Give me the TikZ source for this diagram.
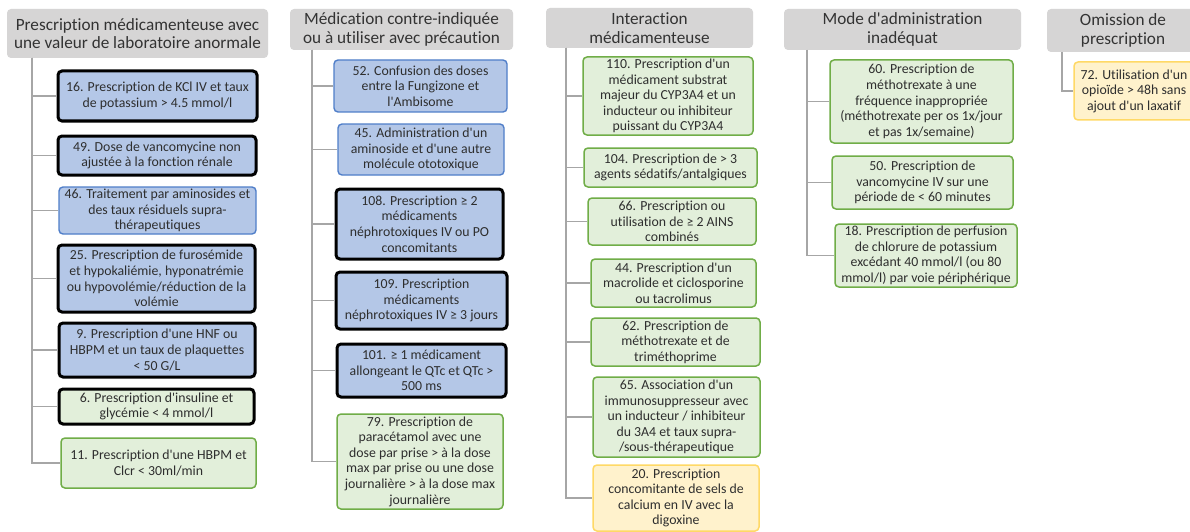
\documentclass[tikz,border=0pt]{standalone}
\usepackage{fontspec}
\setmainfont{Carlito}[Ligatures={NoCommon,TeXOff}]
\definecolor{hdrfill}{HTML}{D6D5D5}
\definecolor{hdrtxt}{HTML}{333333}
\definecolor{txt}{HTML}{2E2E2E}
\definecolor{bluefill}{HTML}{B4C7E7}
\definecolor{blueline}{HTML}{4F7EC9}
\definecolor{greenfill}{HTML}{E2EFDA}
\definecolor{greenline}{HTML}{70AD47}
\definecolor{yellowfill}{HTML}{FFF2CC}
\definecolor{yellowline}{HTML}{FFD966}
\definecolor{conncol}{HTML}{A6A6A6}
\newcommand\bx[7]{\node[#6, minimum width={#4-#2}, minimum height={#5-#3}] (#1) at ({(#2+#4)/2},{(#3+#5)/2}) {#7};}
\begin{document}
\begin{tikzpicture}[x=1pt,y=-1pt,
  base/.style={rounded corners=4pt, align=center, inner sep=0pt, font=\fontsize{13.8}{15.6}\selectfont, text=txt},
  hdr/.style={base, fill=hdrfill, draw=none, font=\fontsize{17.2}{18.5}\selectfont, text=hdrtxt},
  bluethick/.style={base, fill=bluefill, draw=black, line width=3pt},
  bluebox/.style={base, fill=bluefill, draw=blueline, line width=1.4pt},
  greenthick/.style={base, fill=greenfill, draw=black, line width=3pt},
  greenbox/.style={base, fill=greenfill, draw=greenline, line width=1.5pt},
  yellowbox/.style={base, fill=yellowfill, draw=yellowline, line width=1.5pt},
  conn/.style={draw=conncol, line width=1.8pt}]
\useasboundingbox[fill=white] (0,0) rectangle (1190,532);

% Column 1
\bx{h1}{7}{9}{268}{58}{hdr}{Prescription médicamenteuse avec\\une valeur de laboratoire anormale}
\coordinate (t1) at (32,58);
\bx{b16}{58}{71}{257}{121}{bluethick}{16. Prescription de KCl IV et taux\\de potassium > 4.5 mmol/l}
\bx{b49}{58}{136}{256}{175}{bluethick}{49. Dose de vancomycine non\\ajustée à la fonction rénale}
\bx{b46}{59}{187}{256}{234}{bluebox}{46. Traitement par aminosides et\\des taux résiduels supra-\\thérapeutiques}
\bx{b25}{58}{245}{255}{312}{bluethick}{25. Prescription de furosémide\\et hypokaliémie, hyponatrémie\\ou hypovolémie/réduction de la\\volémie}
\bx{b9}{59}{323}{255}{377}{bluethick}{9. Prescription d'une HNF ou\\HBPM et un taux de plaquettes\\< 50 G/L}
\bx{b6}{59}{389}{254}{424}{greenthick}{6. Prescription d'insuline et\\glycémie < 4 mmol/l}
\bx{b11}{61}{438}{256}{488}{greenbox}{11. Prescription d'une HBPM et\\Clcr < 30ml/min}
\foreach \n in {b16,b49,b46,b25,b9,b6,b11} {\draw[conn] (t1) |- (\n.west);}

% Column 2
\bx{h2}{290}{9}{513}{50}{hdr}{Médication contre-indiquée\\ou à utiliser avec précaution}
\coordinate (t2) at (312,50);
\bx{b52}{334}{60}{507}{112}{bluebox}{52. Confusion des doses\\entre la Fungizone et\\l'Ambisome}
\bx{b45}{338}{124}{504}{175}{bluebox}{45. Administration d'un\\aminoside et d'une autre\\molécule ototoxique}
\bx{b108}{336}{189}{503}{259}{bluethick}{108. Prescription ≥ 2\\médicaments\\néphrotoxiques IV ou PO\\concomitants}
\bx{b109}{336}{272}{507}{329}{bluethick}{109. Prescription\\médicaments\\néphrotoxiques IV ≥ 3 jours}
\bx{b101}{337}{344}{506}{397}{bluethick}{101. ≥ 1 médicament\\allongeant le QTc et QTc >\\500 ms}
\bx{b79}{337}{414}{503}{509}{greenbox}{79. Prescription de\\paracétamol avec une\\dose par prise > à la dose\\max par prise ou une dose\\journalière > à la dose max\\journalière}
\foreach \n in {b52,b45,b108,b109,b101,b79} {\draw[conn] (t2) |- (\n.west);}

% Column 3
\bx{h3}{546}{8}{753}{48}{hdr}{Interaction\\médicamenteuse}
\coordinate (t3) at (566,48);
\bx{b110}{583}{57}{753}{135}{greenbox}{110. Prescription d'un\\médicament substrat\\majeur du CYP3A4 et un\\inducteur ou inhibiteur\\puissant du CYP3A4}
\bx{b104}{584}{148}{757}{187}{greenbox}{104. Prescription de > 3\\agents sédatifs/antalgiques}
\bx{b66}{588}{198}{756}{245}{greenbox}{66. Prescription ou\\utilisation de ≥ 2 AINS\\combinés}
\bx{b44}{591}{259}{756}{307}{greenbox}{44. Prescription d'un\\macrolide et ciclosporine\\ou tacrolimus}
\bx{b62}{591}{318}{760}{366}{greenbox}{62. Prescription de\\méthotrexate et de\\triméthoprime}
\bx{b65}{593}{377}{760}{457}{greenbox}{65. Association d'un\\immunosuppresseur avec\\un inducteur / inhibiteur\\du 3A4 et taux supra-\\/sous-thérapeutique}
\bx{b20}{593}{465}{759}{531}{yellowbox}{20. Prescription\\concomitante de sels de\\calcium en IV avec la\\digoxine}
\foreach \n in {b110,b104,b66,b44,b62,b65,b20} {\draw[conn] (t3) |- (\n.west);}

% Column 4
\bx{h4}{784}{9}{1021}{50}{hdr}{Mode d'administration\\inadéquat}
\coordinate (t4) at (807,50);
\bx{b60}{830}{60}{1013}{143}{greenbox}{60. Prescription de\\méthotrexate à une\\fréquence inappropriée\\(méthotrexate per os 1x/jour\\et pas 1x/semaine)}
\bx{b50}{832}{156}{1013}{209}{greenbox}{50. Prescription de\\vancomycine IV sur une\\période de < 60 minutes}
\bx{b18}{835}{224}{1017}{287}{greenbox}{18. Prescription de perfusion\\de chlorure de potassium\\excédant 40 mmol/l (ou 80\\mmol/l) par voie périphérique}
\foreach \n in {b60,b50,b18} {\draw[conn] (t4) |- (\n.west);}

% Column 5
\bx{h5}{1047}{9}{1199}{52}{hdr}{Omission de\\prescription}
\coordinate (t5) at (1062,52);
\bx{b72}{1074}{62}{1194}{120}{yellowbox}{72. Utilisation d'un\\opioïde > 48h sans\\ajout d'un laxatif}
\draw[conn] (t5) |- (b72.west);
\end{tikzpicture}
\end{document}
